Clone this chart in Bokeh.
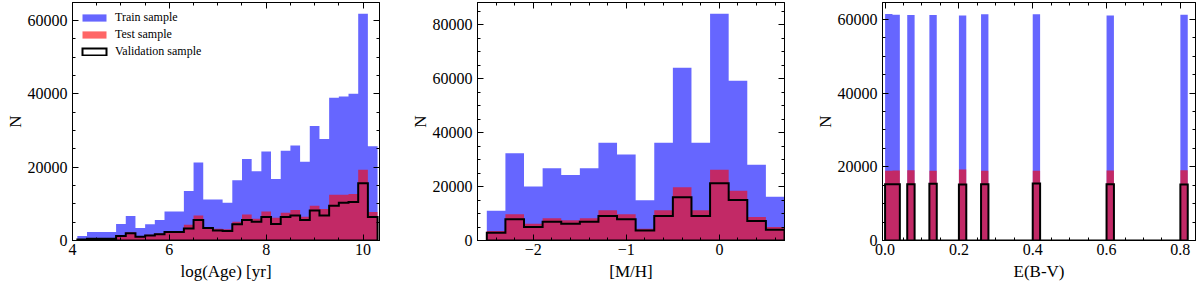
import numpy as np
from bokeh.plotting import figure
from bokeh.layouts import row
from bokeh.models import (Range1d, LinearAxis, SingleIntervalTicker, CustomJSTickFormatter,
                          Legend, LegendItem)
from bokeh.embed import file_html
from bokeh.resources import INLINE

# ---------------- data ----------------
# Panel 1: log(Age)
age_edges = [4.1, 4.3, 4.5, 4.7, 4.9, 5.1, 5.3, 5.5, 5.7, 5.9, 6.1, 6.3, 6.5, 6.7, 6.9, 7.1,
             7.3, 7.5, 7.7, 7.9, 8.1, 8.3, 8.5, 8.7, 8.9, 9.1, 9.3, 9.5, 9.7, 9.9, 10.1, 10.3]
age_train = [1200, 2300, 2300, 2300, 4500, 6700, 3400, 4400, 5600, 7900, 7900, 13500, 21300,
             11200, 11200, 10300, 16400, 22200, 18900, 24300, 16800, 24500, 25900, 21500,
             31200, 27700, 38900, 39300, 40000, 61800, 25700]
age_test = [400, 550, 550, 550, 1350, 2200, 1200, 1550, 1900, 2600, 2600, 4300, 6800,
            3600, 3200, 3100, 5100, 7100, 5900, 7900, 6200, 7600, 8300, 6500,
            9500, 8600, 12500, 12500, 12700, 19300, 7800]
age_val = [300, 450, 450, 450, 1200, 2000, 1000, 1350, 1700, 2300, 2300, 3300, 5600,
           3400, 2700, 2600, 4400, 5600, 5100, 6400, 4500, 6400, 6800, 5600,
           8200, 6800, 9500, 10300, 10500, 15600, 6400]

# Panel 2: [M/H]
mh_edges = [-2.5, -2.3, -2.1, -1.9, -1.7, -1.5, -1.3, -1.1, -0.9, -0.7, -0.5, -0.3, -0.1,
            0.1, 0.3, 0.5, 0.7]
mh_train = [11000, 32400, 20000, 26800, 24300, 26800, 36300, 31900, 14950, 36300, 64100,
            36300, 84100, 59300, 28100, 16200]
mh_test = [3500, 9750, 6250, 8250, 7500, 8250, 11250, 9750, 4400, 11250, 19750, 11250,
           26250, 18500, 8750, 5000]
mh_val = [2900, 7900, 5000, 7000, 6250, 7000, 9100, 7900, 3750, 9100, 16000, 9100,
          21250, 15000, 7250, 4000]

# Panel 3: E(B-V)
ebv_left = [0.0, 0.02, 0.06, 0.12, 0.2, 0.26, 0.4, 0.6, 0.8]
ebv_right = [0.02, 0.04, 0.08, 0.14, 0.22, 0.28, 0.42, 0.62, 0.82]
ebv_train = [61500, 61300, 61200, 61200, 61100, 61400, 61400, 61100, 61300]
ebv_test = [18900, 19000, 19100, 18900, 19300, 18900, 18900, 19000, 19100]
ebv_val = [15300, 15300, 15300, 15400, 15200, 15300, 15500, 15300, 15200]

FONT = "Liberation Serif"
HEIGHT = 285


def outline(lefts, rights, heights):
    xs, ys = [], []
    prev_r = None
    for l, r, h in zip(lefts, rights, heights):
        if prev_r is None or abs(l - prev_r) > 1e-9:
            if prev_r is not None:
                xs.append(prev_r); ys.append(0)
            xs.append(l); ys.append(0)
        xs += [l, r]; ys += [h, h]
        prev_r = r
    xs.append(prev_r); ys.append(0)
    return xs, ys


def style_axis(ax, fmt_code, labels=True):
    ax.axis_line_color = "black"
    ax.axis_line_width = 1
    ax.major_tick_line_color = "black"
    ax.minor_tick_line_color = "black"
    ax.major_tick_in = 6
    ax.major_tick_out = 0
    ax.minor_tick_in = 3
    ax.minor_tick_out = 0
    if labels:
        ax.formatter = CustomJSTickFormatter(code=fmt_code)
        ax.major_label_text_font = FONT
        ax.major_label_text_font_size = "16px"
        ax.major_label_text_color = "black"
        ax.major_label_standoff = 3
        ax.axis_label_text_font = FONT
        ax.axis_label_text_font_size = "17px"
        ax.axis_label_text_font_style = "normal"
        ax.axis_label_text_color = "black"
        ax.axis_label_standoff = 4
    else:
        ax.formatter = CustomJSTickFormatter(code="return '';")
        ax.major_label_text_font_size = "0px"
        ax.major_label_standoff = 0
        ax.axis_label = None


def make_fig(width, xr, yr, mbl, mbr, xlabel, x_int, x_minor, xfmt, lefts, rights,
             train, test, val, legend=False):
    p = figure(width=width, height=HEIGHT, x_range=Range1d(*xr), y_range=Range1d(*yr),
               output_backend="svg", toolbar_location=None,
               min_border_left=mbl, min_border_right=mbr, min_border_top=2,
               min_border_bottom=45)
    p.grid.visible = False
    p.outline_line_color = "black"
    p.outline_line_width = 1
    p.background_fill_color = "white"
    p.border_fill_color = "white"

    xt = SingleIntervalTicker(interval=x_int, num_minor_ticks=x_minor)
    yt = SingleIntervalTicker(interval=20000, num_minor_ticks=4)
    p.xaxis.ticker = xt
    p.yaxis.ticker = yt
    style_axis(p.xaxis[0], xfmt)
    style_axis(p.yaxis[0], "return tick.toFixed(0);")
    p.xaxis[0].axis_label = xlabel
    p.yaxis[0].axis_label = "N"
    p.yaxis[0].axis_label_standoff = 0
    p.yaxis[0].major_label_standoff = 5
    top = LinearAxis(ticker=xt)
    right = LinearAxis(ticker=yt)
    style_axis(top, "", labels=False)
    style_axis(right, "", labels=False)
    p.add_layout(top, "above")
    p.add_layout(right, "right")

    tx, ty = outline(lefts, rights, train)
    sx, sy = outline(lefts, rights, test)
    vx, vy = outline(lefts, rights, val)
    r_train = p.patch(tx, ty, fill_color="blue", fill_alpha=0.6, line_color=None)
    r_test = p.patch(sx, sy, fill_color="red", fill_alpha=0.6, line_color=None)
    r_val = p.patch(vx, vy, fill_alpha=0, line_color="black", line_width=2,
                    line_join="miter")

    if legend:
        leg = Legend(items=[LegendItem(label="Train sample", renderers=[r_train]),
                            LegendItem(label="Test sample", renderers=[r_test]),
                            LegendItem(label="Validation sample", renderers=[r_val])],
                     location="top_left")
        leg.border_line_color = None
        leg.background_fill_alpha = 0
        leg.label_text_font = FONT
        leg.label_text_font_size = "12px"
        leg.label_text_color = "black"
        leg.glyph_width = 30
        leg.glyph_height = 9
        leg.label_height = 17
        leg.label_standoff = 6
        leg.spacing = 0
        leg.padding = 7
        leg.margin = 7
        p.add_layout(leg)
    return p


p1 = make_fig(405, (4.0, 10.34), (0, 64900), 72, 26, "log(Age) [yr]", 2, 4,
              "return tick.toFixed(0);", age_edges[:-1], age_edges[1:],
              age_train, age_test, age_val, legend=True)
p2 = make_fig(405, (-2.6, 0.7), (0, 88300), 72, 26, "[M/H]", 1, 5,
              "return (tick < -1e-9 ? '\u2212' : '') + Math.abs(Math.round(tick)).toString();",
              mh_edges[:-1], mh_edges[1:], mh_train, mh_test, mh_val)
p3 = make_fig(390, (-0.007, 0.841), (0, 64600), 72, 5, "E(B-V)", 0.2, 4,
              "return Math.abs(tick) < 1e-9 ? '0.0' : tick.toFixed(1);",
              ebv_left, ebv_right, ebv_train, ebv_test, ebv_val)

layout = row(p1, p2, p3)
open("out.html", "w").write(file_html(layout, INLINE))
